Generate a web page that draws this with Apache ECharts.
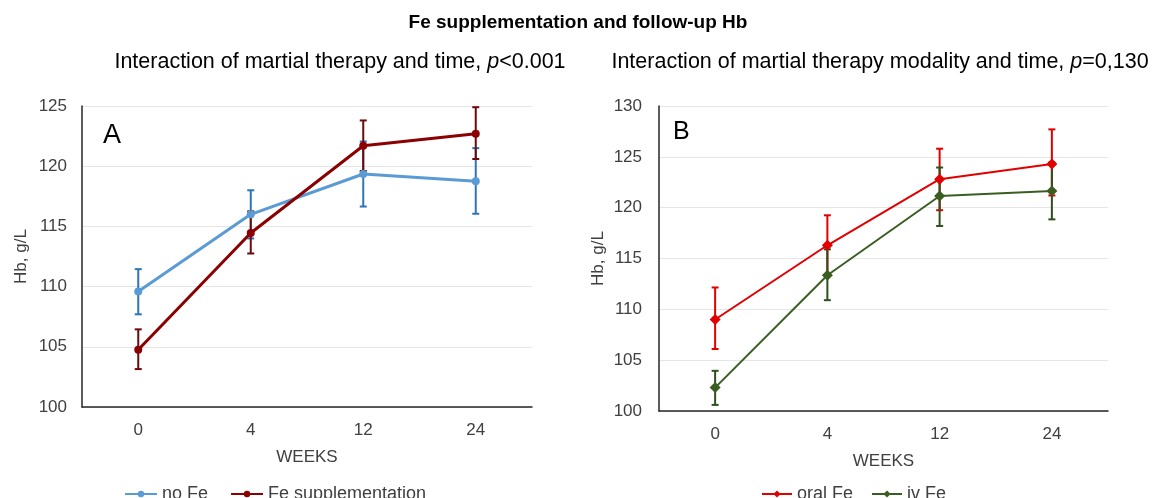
<!DOCTYPE html>
<html>
<head>
<meta charset="utf-8">
<script src="https://cdn.jsdelivr.net/npm/echarts@6/dist/echarts.min.js"></script>
<style>
html,body{margin:0;padding:0;background:#fff;}
#c{width:1156px;height:498px;}
</style>
</head>
<body>
<div id="c"></div>
<script>
// ---- data ----
var weeks = ['0', '4', '12', '24'];

// Panel A
var noFe = [109.6, 116.0, 119.35, 118.75];
var noFeLow = [107.7, 114.0, 116.65, 116.05];
var noFeHigh = [111.45, 118.0, 122.05, 121.5];

var feSupp = [104.75, 114.45, 121.7, 122.7];
var feSuppLow = [103.15, 112.75, 119.6, 120.6];
var feSuppHigh = [106.45, 116.25, 123.8, 124.9];

// Panel B
var oralFe = [109.0, 116.3, 122.8, 124.3];
var oralFeLow = [106.1, 113.3, 119.75, 121.2];
var oralFeHigh = [112.15, 119.25, 125.8, 127.7];

var ivFe = [102.3, 113.35, 121.15, 121.65];
var ivFeLow = [100.6, 110.9, 118.2, 118.85];
var ivFeHigh = [103.95, 115.9, 123.95, 124.45];

var yTicksA = [100, 105, 110, 115, 120, 125];
var yTicksB = [100, 105, 110, 115, 120, 125, 130];

// ---- helpers ----
function errData(low, high) {
  return low.map(function (l, i) { return [i, l, high[i]]; });
}
function errSeries(name, low, high, color, xi, w) {
  return {
    type: 'custom',
    name: name + ' err',
    xAxisIndex: xi, yAxisIndex: xi,
    data: errData(low, high),
    silent: true,
    renderItem: function (params, api) {
      var x = api.value(0);
      var p1 = api.coord([x, api.value(1)]);
      var p2 = api.coord([x, api.value(2)]);
      var hw = 3.5;
      var st = { stroke: color, lineWidth: w };
      return {
        type: 'group',
        children: [
          { type: 'line', shape: { x1: p1[0], y1: p1[1], x2: p2[0], y2: p2[1] }, style: st },
          { type: 'line', shape: { x1: p1[0] - hw, y1: p1[1], x2: p1[0] + hw, y2: p1[1] }, style: st },
          { type: 'line', shape: { x1: p2[0] - hw, y1: p2[1], x2: p2[0] + hw, y2: p2[1] }, style: st }
        ]
      };
    },
    z: 2
  };
}

var FONT = '"Liberation Sans", Arial, sans-serif';
var TXT = '#404040';

function xAxisCfg(gi, gap) {
  return {
    type: 'category', gridIndex: gi, data: weeks, boundaryGap: true,
    name: 'WEEKS', nameLocation: 'middle', nameGap: gap,
    nameTextStyle: { fontSize: 17, color: TXT, fontFamily: FONT },
    axisLine: { show: true, lineStyle: { color: '#262626', width: 1.5 } },
    axisTick: { show: false },
    axisLabel: { fontSize: 17, color: TXT, fontFamily: FONT, margin: 15 },
    splitLine: { show: false }
  };
}
function yAxisCfg(gi, ticks, gap, margin) {
  return {
    type: 'value', gridIndex: gi,
    min: ticks[0], max: ticks[ticks.length - 1], interval: ticks[1] - ticks[0],
    name: 'Hb, g/L', nameLocation: 'middle', nameGap: gap, nameRotate: 90,
    nameTextStyle: { fontSize: 17, color: TXT, fontFamily: FONT },
    axisLine: { show: true, lineStyle: { color: '#262626', width: 1.5 } },
    axisTick: { show: false },
    axisLabel: { fontSize: 17, color: TXT, fontFamily: FONT, margin: margin },
    splitLine: { show: true, lineStyle: { color: '#e6e6e6', width: 1 } }
  };
}
function lineSeries(name, data, color, xi, symbol, size, width) {
  return {
    type: 'line', name: name, xAxisIndex: xi, yAxisIndex: xi, data: data,
    symbol: symbol, symbolSize: size, showSymbol: true,
    lineStyle: { color: color, width: width },
    itemStyle: { color: color },
    emphasis: { disabled: true },
    z: 3
  };
}

var chart = echarts.init(document.getElementById('c'), null, { renderer: 'canvas' });
var option = {
  animation: false,
  backgroundColor: '#fff',
  textStyle: { fontFamily: FONT },
  grid: [
    { left: 82, top: 106, width: 450, height: 301 },
    { left: 659, top: 106, width: 449, height: 305 }
  ],
  xAxis: [xAxisCfg(0, 42), xAxisCfg(1, 42)],
  yAxis: [yAxisCfg(0, yTicksA, 52, 15), yAxisCfg(1, yTicksB, 52, 17)],
  legend: [
    {
      data: ['no Fe', 'Fe supplementation'], left: 119, top: 480,
      itemWidth: 32, itemHeight: 8, itemGap: 22,
      textStyle: { fontSize: 18, color: TXT, fontFamily: FONT }
    },
    {
      data: ['oral Fe', 'iv Fe'], left: 756, top: 480,
      itemWidth: 30, itemHeight: 9, itemGap: 18,
      textStyle: { fontSize: 18, color: TXT, fontFamily: FONT }
    }
  ],
  series: [
    errSeries('no Fe', noFeLow, noFeHigh, '#2e75b6', 0, 2),
    lineSeries('no Fe', noFe, '#5b9bd5', 0, 'circle', 8, 3),
    errSeries('Fe supplementation', feSuppLow, feSuppHigh, '#6b0a0a', 0, 2),
    lineSeries('Fe supplementation', feSupp, '#8b0000', 0, 'circle', 8, 3),
    errSeries('oral Fe', oralFeLow, oralFeHigh, '#e00000', 1, 2),
    lineSeries('oral Fe', oralFe, '#e00000', 1, 'diamond', 11, 2),
    errSeries('iv Fe', ivFeLow, ivFeHigh, '#2f4f1e', 1, 2),
    lineSeries('iv Fe', ivFe, '#3a5e22', 1, 'diamond', 11, 2)
  ],
  graphic: [
    { type: 'text', x: 578, y: 23, style: { text: 'Fe supplementation and follow-up Hb', align: 'center', verticalAlign: 'middle', font: 'bold 19px ' + FONT, fill: '#000' } },
    { type: 'text', x: 340, y: 62, style: {
        text: 'Interaction of martial therapy and time, {i|p}<0.001', align: 'center', verticalAlign: 'middle',
        font: '21.5px ' + FONT, fill: '#000',
        rich: { i: { fontStyle: 'italic', fontSize: 21.5, fontFamily: FONT, fill: '#000' } } } },
    { type: 'text', x: 880, y: 62, style: {
        text: 'Interaction of martial therapy modality and time, {i|p}=0,130', align: 'center', verticalAlign: 'middle',
        font: '21.5px ' + FONT, fill: '#000',
        rich: { i: { fontStyle: 'italic', fontSize: 21.5, fontFamily: FONT, fill: '#000' } } } },
    { type: 'text', x: 103, y: 122, style: { text: 'A', font: '27px ' + FONT, fill: '#000' } },
    { type: 'text', x: 673, y: 120, style: { text: 'B', font: '25px ' + FONT, fill: '#000' } }
  ]
};
chart.setOption(option);
</script>
</body>
</html>
